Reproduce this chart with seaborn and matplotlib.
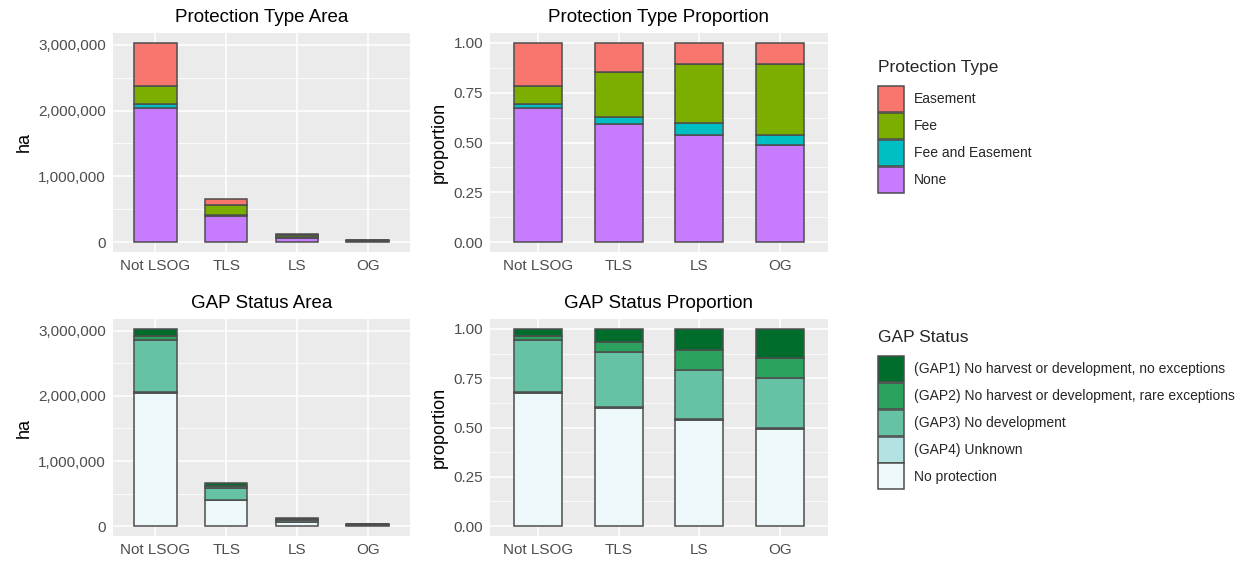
import numpy as np
import pandas as pd
import matplotlib
matplotlib.use("Agg")
import matplotlib.pyplot as plt
from matplotlib.patches import Patch
from matplotlib.ticker import FuncFormatter, MultipleLocator
import seaborn as sns

# ---- data (hectares per forest structure class) ----
classes = ["Not LSOG", "TLS", "LS", "OG"]

protection_types = ["Easement", "Fee", "Fee and Easement", "None"]
easement_ha = [650000, 95000, 13000, 3700]
fee_ha = [275000, 152000, 37500, 12500]
fee_easement_ha = [60000, 23000, 7500, 1800]
none_ha = [2045000, 390000, 67000, 17000]
protection_colors = ["#F8766D", "#7CAE00", "#00BFC4", "#C77CFF"]

gap_levels = [
    "(GAP1) No harvest or development, no exceptions",
    "(GAP2) No harvest or development, rare exceptions",
    "(GAP3) No development",
    "(GAP4) Unknown",
    "No protection",
]
gap1_ha = [110000, 43000, 13700, 5200]
gap2_ha = [60000, 33000, 12500, 3500]
gap3_ha = [805000, 187000, 31000, 8900]
gap4_ha = [10000, 1000, 300, 100]
no_protection_ha = [2045000, 396000, 67500, 17300]
gap_colors = ["#006D2C", "#2CA25F", "#66C2A4", "#B2E2E2", "#EDF8FB"]


def long_frame(levels, series):
    rows = []
    for lvl, vals in zip(levels, series):
        for c, v in zip(classes, vals):
            rows.append({"class": c, "level": lvl, "ha": v})
    df = pd.DataFrame(rows)
    df["class"] = pd.Categorical(df["class"], categories=classes, ordered=True)
    return df


prot_df = long_frame(protection_types, [easement_ha, fee_ha, fee_easement_ha, none_ha])
gap_df = long_frame(gap_levels, [gap1_ha, gap2_ha, gap3_ha, gap4_ha, no_protection_ha])

# ---- theme ----
sns.set_theme(style="darkgrid")
plt.rcParams["font.family"] = ["Liberation Sans", "DejaVu Sans"]
EDGE = "#4D4D4D"
PANEL = "#EBEBEB"

W, H = 1244, 562
fig = plt.figure(figsize=(W / 100, H / 100), dpi=100)


def px_axes(x0, y0, x1, y1):
    return fig.add_axes([x0 / W, 1 - y1 / H, (x1 - x0) / W, (y1 - y0) / H])


ax_pa = px_axes(113, 33, 410, 252)
ax_pp = px_axes(490, 33, 828, 252)
ax_ga = px_axes(113, 319, 410, 536)
ax_gp = px_axes(490, 319, 828, 536)


def draw(ax, df, levels, colors, mode, title):
    sns.histplot(
        data=df, x="class", weights="ha", hue="level", hue_order=levels,
        palette=colors, multiple=mode, discrete=True, shrink=0.6,
        edgecolor=EDGE, linewidth=1.1, alpha=1, legend=False, ax=ax,
    )
    ax.set_facecolor(PANEL)
    for s in ax.spines.values():
        s.set_visible(False)
    ax.set_xlim(-0.6, 3.6)
    ax.set_xticks(range(len(classes)))
    ax.set_xticklabels(classes)
    ax.set_xlabel("")
    if mode == "stack":
        tot = df.groupby("class", observed=True)["ha"].sum().max()
        ax.set_ylim(-0.05 * tot, 1.05 * tot)
        ax.yaxis.set_major_locator(MultipleLocator(1000000))
        ax.yaxis.set_minor_locator(MultipleLocator(500000))
        ax.yaxis.set_major_formatter(FuncFormatter(lambda v, p: f"{int(round(v)):,}"))
        ax.set_ylabel("ha", fontsize=13, color="black", labelpad=4)
    else:
        ax.set_ylim(-0.05, 1.05)
        ax.yaxis.set_major_locator(MultipleLocator(0.25))
        ax.yaxis.set_minor_locator(MultipleLocator(0.125))
        ax.yaxis.set_major_formatter(FuncFormatter(lambda v, p: f"{v:.2f}"))
        ax.set_ylabel("proportion", fontsize=13, color="black", labelpad=4)
    ax.grid(False)
    ax.set_axisbelow(True)
    ax.grid(which="major", color="white", linewidth=1.1)
    ax.grid(which="minor", axis="y", color="white", linewidth=0.55)
    ax.tick_params(which="major", length=3, width=1, color="#333333",
                   labelsize=11, labelcolor="#4D4D4D", pad=2)
    ax.tick_params(which="minor", length=0)
    ax.set_title(title, fontsize=13.5, color="black", pad=8)


draw(ax_pa, prot_df, protection_types, protection_colors, "stack", "Protection Type Area")
draw(ax_pp, prot_df, protection_types, protection_colors, "fill", "Protection Type Proportion")
draw(ax_ga, gap_df, gap_levels, gap_colors, "stack", "GAP Status Area")
draw(ax_gp, gap_df, gap_levels, gap_colors, "fill", "GAP Status Proportion")


def add_legend(title, levels, colors, x, y):
    handles = [Patch(facecolor=c, edgecolor=EDGE, linewidth=1.1, label=l)
               for l, c in zip(levels, colors)]
    leg = fig.legend(handles=handles, title=title, loc="upper left",
                     bbox_to_anchor=(x / W, 1 - y / H), frameon=False,
                     fontsize=10, title_fontsize=12.5, handlelength=1.85,
                     handleheight=2.5, labelspacing=0.06, handletextpad=0.75,
                     borderpad=0, borderaxespad=0, alignment="left")
    # a little more room between the legend title and its keys
    leg._legend_box.sep = 8
    return leg


add_legend("Protection Type", protection_types, protection_colors, 878, 60)
add_legend("GAP Status", gap_levels, gap_colors, 878, 330)

fig.savefig("out.png", dpi=100, facecolor="white")
